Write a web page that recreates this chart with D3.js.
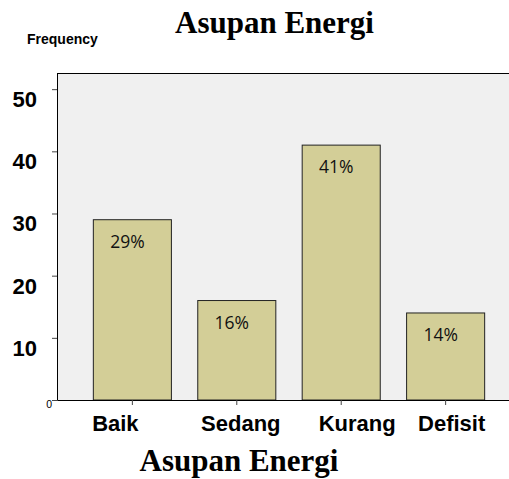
<!DOCTYPE html>
<html>
<head>
<meta charset="utf-8">
<script src="https://cdn.jsdelivr.net/npm/d3@7"></script>
<style>
  body { margin: 0; background: #fff; }
  svg { display: block; }
</style>
</head>
<body>
<svg width="509" height="479"></svg>
<script>
let categories = ['Baik', 'Sedang', 'Kurang', 'Defisit'];
let counts = [29, 16, 41, 14];
let percentLabels = ['29%', '16%', '41%', '14%'];
let yTicks = [0, 10, 20, 30, 40, 50];

let plotLeft = 57, plotTop = 73, plotBottom = 400, plotRight = 521;
// the category labels are not centred under their ticks in the original
let labelShift = [-17, 4, 16, 6];

let svg = d3.select('svg');

// scales
const xScale = d3.scaleBand()
  .domain(categories)
  .range([plotLeft, plotRight])
  .paddingInner(0.2524)
  .paddingOuter(0.348);

const yScale = d3.scaleLinear()
  .domain([0, 52.6])
  .range([plotBottom, plotTop]);

// plot background
svg.append('rect')
  .attr('x', plotLeft)
  .attr('y', plotTop)
  .attr('width', 509 - plotLeft)
  .attr('height', plotBottom - plotTop)
  .attr('fill', '#f0f0f0');

svg.append('line')
  .attr('x1', plotLeft).attr('x2', 509)
  .attr('y1', plotTop + 0.5).attr('y2', plotTop + 0.5)
  .attr('stroke', '#000');

// bars
let bar = svg.selectAll('.bar')
  .data(categories)
  .enter()
  .append('g');

bar.append('rect')
  .attr('x', d => xScale(d))
  .attr('y', (d, i) => yScale(counts[i]))
  .attr('width', xScale.bandwidth())
  .attr('height', (d, i) => plotBottom - yScale(counts[i]))
  .attr('fill', '#d3ce97')
  .attr('stroke', '#222')
  .attr('stroke-width', 1);

bar.append('text')
  .attr('x', d => xScale(d) + xScale.bandwidth() / 2 - 5)
  .attr('y', (d, i) => yScale(counts[i]) + 28)
  .attr('text-anchor', 'middle')
  .attr('font-family', 'Open Sans, sans-serif')
  .attr('font-size', 17.5)
  .attr('fill', '#111')
  .text((d, i) => percentLabels[i]);

// y axis
let yAxis = svg.append('g')
  .attr('transform', `translate(${plotLeft}, 0)`)
  .call(d3.axisLeft(yScale).tickValues(yTicks).tickSize(5).tickSizeOuter(0));

yAxis.select('.domain').attr('stroke', '#000');
yAxis.selectAll('.tick line').attr('stroke', '#444');
yAxis.selectAll('.tick text')
  .attr('dy', null)
  .attr('fill', '#000')
  .attr('font-family', 'Liberation Sans, Arial, sans-serif')
  .attr('font-weight', d => d === 0 ? 'normal' : 'bold')
  .attr('font-size', d => d === 0 ? 10.5 : 22)
  .attr('x', d => d === 0 ? -5 : -20)
  .attr('y', d => d === 0 ? 7.5 : 17.5);

// x axis
let xAxis = svg.append('g')
  .attr('transform', `translate(0, ${plotBottom})`)
  .call(d3.axisBottom(xScale).tickSize(5).tickSizeOuter(0));

xAxis.select('.domain').attr('stroke', '#000');
xAxis.selectAll('.tick line').attr('stroke', '#444');
xAxis.selectAll('.tick text')
  .attr('dy', null)
  .attr('y', 31)
  .attr('x', (d, i) => labelShift[i])
  .attr('fill', '#000')
  .attr('font-family', 'Liberation Sans, Arial, sans-serif')
  .attr('font-weight', 'bold')
  .attr('font-size', 22);

// titles
svg.append('text')
  .attr('x', 274.5)
  .attr('y', 33)
  .attr('text-anchor', 'middle')
  .attr('font-family', 'Liberation Serif, Times New Roman, serif')
  .attr('font-weight', 'bold')
  .attr('font-size', 31)
  .text('Asupan Energi');

svg.append('text')
  .attr('x', 27)
  .attr('y', 44)
  .attr('font-family', 'Liberation Sans, Arial, sans-serif')
  .attr('font-weight', 'bold')
  .attr('font-size', 14)
  .text('Frequency');

svg.append('text')
  .attr('x', 239)
  .attr('y', 471)
  .attr('text-anchor', 'middle')
  .attr('font-family', 'Liberation Serif, Times New Roman, serif')
  .attr('font-weight', 'bold')
  .attr('font-size', 31)
  .text('Asupan Energi');
</script>
</body>
</html>
